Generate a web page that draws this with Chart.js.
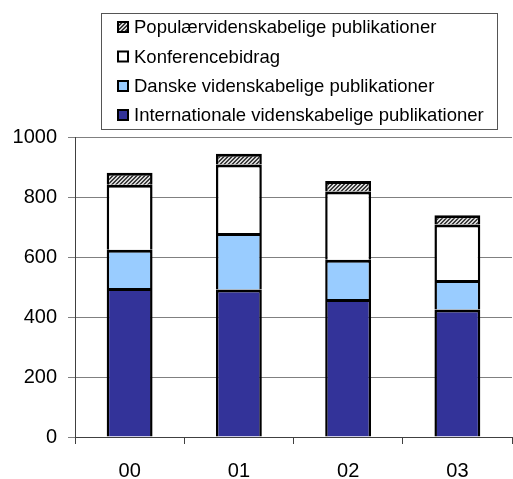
<!DOCTYPE html>
<html>
<head>
<meta charset="utf-8">
<script src="https://cdn.jsdelivr.net/npm/chart.js@4/dist/chart.umd.min.js"></script>
<style>
  html, body { margin: 0; padding: 0; background: #fff; }
  #wrap { width: 513px; height: 479px; }
</style>
</head>
<body>
<div id="wrap"><canvas id="chart" width="513" height="479"></canvas></div>
<script>
  // data
  const years = ['00', '01', '02', '03'];
  const internationale = [497, 492, 460, 425];
  const danske = [127, 188, 131, 98];
  const konference = [217, 228, 227, 185];
  const populaer = [40, 36, 35, 31];
  const yTicks = [0, 200, 400, 600, 800, 1000];

  const FONT = "'Liberation Sans', Arial, sans-serif";

  // diagonal hatch for the popular-science series
  function makeHatch() {
    const c = document.createElement('canvas');
    c.width = 4;
    c.height = 4;
    const g = c.getContext('2d');
    g.fillStyle = '#d8d8d8';
    g.fillRect(0, 0, 4, 4);
    g.fillStyle = '#3a3a3a';
    for (let i = 0; i < 4; i++) {
      g.fillRect(i, 3 - i, 1, 1);
      g.fillRect((i + 1) % 4, 3 - i, 1, 1);
    }
    return g.createPattern(c, 'repeat');
  }

  const ctx = document.getElementById('chart').getContext('2d');
  const hatch = makeHatch();

  // no bottom edge, so stacked joints are one line thick
  const border = { top: 3, left: 2.5, right: 2.5, bottom: 0 };
  const datasets = [
    { label: 'Internationale videnskabelige publikationer', data: internationale, backgroundColor: '#333399' },
    { label: 'Danske videnskabelige publikationer', data: danske, backgroundColor: '#99ccff' },
    { label: 'Konferencebidrag', data: konference, backgroundColor: '#ffffff' },
    { label: 'Populærvidenskabelige publikationer', data: populaer, backgroundColor: hatch },
  ].map(d => Object.assign(d, {
    borderColor: '#000',
    borderWidth: border,
    borderSkipped: false,
    categoryPercentage: 1,
    barPercentage: 0.42,
  }));

  // legend box drawn above the plot, items in reverse stacking order
  const boxLegend = {
    id: 'boxLegend',
    afterDraw(chart) {
      const g = chart.ctx;
      const box = { x: 101.5, y: 13.5, w: 396, h: 116 };
      g.save();
      g.fillStyle = '#fff';
      g.fillRect(box.x, box.y, box.w, box.h);
      g.strokeStyle = '#555';
      g.lineWidth = 1;
      g.strokeRect(box.x, box.y, box.w, box.h);
      const rows = [27, 56.5, 86, 115];
      const items = chart.data.datasets.slice().reverse();
      g.font = '18.5px ' + FONT;
      g.textBaseline = 'middle';
      items.forEach((ds, i) => {
        const cy = rows[i];
        g.fillStyle = ds.backgroundColor;
        g.fillRect(118, cy - 5, 10, 10);
        g.strokeStyle = '#000';
        g.lineWidth = 2;
        g.strokeRect(118, cy - 5, 10, 10);
        g.fillStyle = '#000';
        g.fillText(ds.label, 134, cy + 1);
      });
      g.restore();
    }
  };

  new Chart(ctx, {
    type: 'bar',
    data: { labels: years, datasets: datasets },
    plugins: [boxLegend],
    options: {
      responsive: false,
      animation: false,
      layout: { padding: { top: 137, right: 1, left: 0, bottom: 0 } },
      plugins: {
        legend: { display: false },
        tooltip: { enabled: false },
      },
      scales: {
        x: {
          stacked: true,
          offset: true,
          grid: {
            offset: true,
            drawOnChartArea: false,
            drawTicks: true,
            tickLength: 7,
            color: '#404040',
          },
          border: { color: '#404040', width: 1 },
          ticks: { color: '#000', font: { family: FONT, size: 20 }, padding: 15 },
          afterFit(scale) { scale.height = 42; },
        },
        y: {
          stacked: true,
          min: 0,
          max: 1000,
          afterBuildTicks(scale) { scale.ticks = yTicks.map(v => ({ value: v })); },
          grid: { color: '#808080', tickLength: 7, lineWidth: 1 },
          border: { color: '#404040', width: 1 },
          ticks: {
            color: '#000',
            font: { family: FONT, size: 20 },
            padding: 11,
            callback: v => String(v),
          },
          afterFit(scale) { scale.width = 75; },
        },
      },
    },
  });
</script>
</body>
</html>
